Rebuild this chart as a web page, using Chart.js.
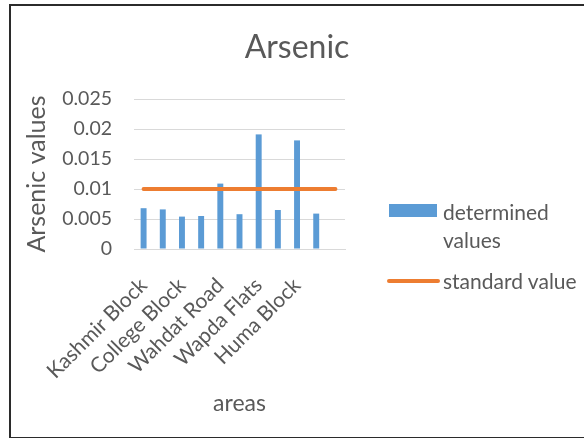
<!DOCTYPE html>
<html>
<head>
<meta charset="utf-8">
<script src="https://cdn.jsdelivr.net/npm/chart.js@4"></script>
<style>
  html, body { margin: 0; padding: 0; background: #fff; }
  #wrap { position: relative; width: 584px; height: 438px; overflow: hidden; font-family: Lato, "Open Sans", sans-serif; color: #595959; }
  #frame { position: absolute; left: 9px; top: 4px; width: 600px; height: 431px; border: 2px solid #2b2b2b; }
  #chart { position: absolute; left: 0; top: 0; }
  .title { position: absolute; left: 10px; width: 574px; top: 27px; line-height: 38px; font-size: 32px; text-align: center; }
  .leg { position: absolute; font-size: 21px; line-height: 28px; white-space: nowrap; }
  .sw-bar { position: absolute; left: 389px; top: 204px; width: 48px; height: 13px; background: #5B9BD5; }
  .sw-line { position: absolute; left: 387px; top: 279px; width: 53px; height: 4px; border-radius: 2px; background: #ED7D31; }
</style>
</head>
<body>
<div id="wrap">
  <div id="frame"></div>
  <canvas id="chart" width="584" height="438"></canvas>
  <div class="title">Arsenic</div>
  <div class="sw-bar"></div>
  <div class="leg" style="left:443px; top:198px;">determined<br>values</div>
  <div class="sw-line"></div>
  <div class="leg" style="left:443px; top:267px;">standard value</div>
</div>
<script>
// only every other category name is printed in the original, the rest are unknown
var categories = ["Kashmir Block", "", "College Block", "", "Wahdat Road", "", "Wapda Flats", "", "Huma Block", "", ""];
var determined = [0.0068, 0.0066, 0.0054, 0.0055, 0.0109, 0.0058, 0.0191, 0.0065, 0.0181, 0.0059, null];
var standard = [0.01, 0.01, 0.01, 0.01, 0.01, 0.01, 0.01, 0.01, 0.01, 0.01, 0.01];
var yTicks = ["0", "0.005", "0.01", "0.015", "0.02", "0.025"];

var textColor = "#595959";
var font = "Lato, 'Open Sans', sans-serif";

var ctx = document.getElementById("chart").getContext("2d");
var chart = new Chart(ctx, {
    type: "bar",
    data: {
        labels: categories,
        datasets: [{
            type: "line",
            label: "standard value",
            data: standard,
            borderColor: "#ED7D31",
            borderWidth: 4,
            borderCapStyle: "round",
            pointRadius: 0,
            fill: false,
            order: 0
        }, {
            label: "determined values",
            data: determined,
            backgroundColor: "#5B9BD5",
            barPercentage: 0.31,
            categoryPercentage: 1,
            order: 1
        }]
    },
    options: {
        responsive: false,
        animation: false,
        layout: { padding: { left: 22, right: 239, top: 99, bottom: 17 } },
        plugins: {
            legend: { display: false },
            title: { display: false },
            tooltip: { enabled: false }
        },
        scales: {
            x: {
                grid: { display: false },
                border: { color: "#d9d9d9", width: 1 },
                ticks: {
                    autoSkip: false,
                    maxRotation: 45,
                    minRotation: 45,
                    padding: 16,
                    color: textColor,
                    font: { family: font, size: 21 }
                },
                title: {
                    display: true,
                    text: "areas",
                    color: textColor,
                    font: { family: font, size: 23 },
                    padding: { top: 4, bottom: 4 }
                },
                afterFit: function (scale) { scale.height = 172; }
            },
            y: {
                min: 0,
                max: 0.025,
                border: { display: false },
                grid: { color: "#d9d9d9", lineWidth: 1, drawTicks: false },
                ticks: {
                    stepSize: 0.005,
                    padding: 22,
                    color: textColor,
                    font: { family: font, size: 19.5 },
                    callback: function (value, index) { return yTicks[index]; }
                },
                title: {
                    display: true,
                    text: "Arsenic values",
                    color: textColor,
                    font: { family: font, size: 25 },
                    padding: { top: 0, bottom: 0 }
                },
                afterFit: function (scale) { scale.width = 112; }
            }
        }
    }
});
</script>
</body>
</html>
